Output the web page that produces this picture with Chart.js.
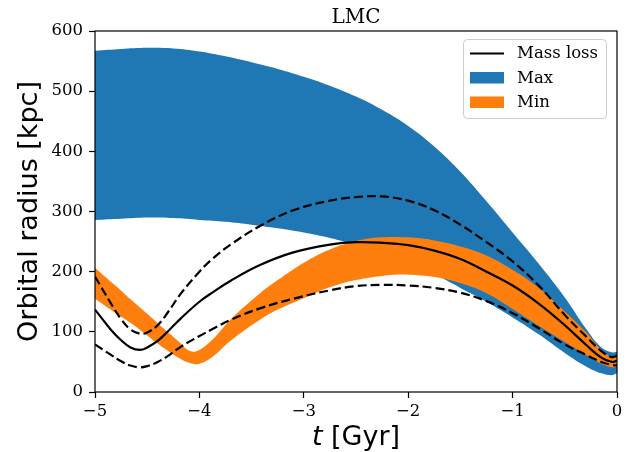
<!DOCTYPE html>
<html>
<head>
<meta charset="utf-8">
<script src="https://cdn.jsdelivr.net/npm/chart.js@4"></script>
<style>
  body { margin: 0; background: #fff; }
</style>
</head>
<body>
<canvas id="orbit" width="640" height="452"></canvas>
<script>
// time grids (Gyr) and orbital radii (kpc)
const tMax = [-5, -4.75, -4.5, -4.25, -4, -3.75, -3.5, -3.25, -3, -2.75, -2.5, -2.25, -2, -1.75, -1.5, -1.25, -1, -0.75, -0.5, -0.3, -0.15, -0.05, 0];
const maxUpper = [567, 570, 572, 571, 566, 558, 548, 537, 524, 509, 491, 469, 442, 408, 366, 317, 265, 213, 157, 106, 74, 66, 67];
const maxLower = [286, 288, 290, 289, 286, 283, 278, 272, 265, 256, 245, 232, 216, 196, 173, 150, 124, 96, 65, 43, 31, 28, 31];

const tMin = [-5, -4.8, -4.66, -4.5, -4.34, -4.2, -4.09, -4, -3.87, -3.71, -3.42, -3.25, -3, -2.75, -2.5, -2.25, -2, -1.75, -1.5, -1.25, -1, -0.75, -0.5, -0.3, -0.15, -0.05, 0];
const minUpper = [206, 176, 154, 130, 105, 84, 68, 70, 88, 119, 164, 186, 215, 237, 251, 257, 257, 252, 242, 227, 203, 173, 134, 100, 70, 58, 59];
const minLower = [155, 131, 115, 94, 73, 57, 48, 47, 59, 84, 120, 137, 156, 174, 186, 193, 195, 191, 181, 164, 138, 110, 83, 62, 47, 41, 42];

const tLoss = [-5, -4.85, -4.75, -4.66, -4.57, -4.5, -4.4, -4.3, -4.18, -4, -3.87, -3.7, -3.42, -3.1, -2.75, -2.5, -2.25, -2, -1.75, -1.5, -1.25, -1, -0.75, -0.5, -0.3, -0.15, -0.05, 0];
const lossMid = [137, 104, 86, 74, 70, 74, 85, 101, 122, 150, 166, 185, 211, 232, 245, 249, 248, 244, 235, 221, 200, 177, 147, 111, 79, 57, 50, 52];
const lossHigh = [192, 148, 121, 104, 97, 99, 111, 133, 163, 200, 222, 245, 276, 302, 318, 324, 325, 318, 302, 278, 249, 217, 177, 128, 93, 68, 58, 60];
const lossLow = [79, 62, 51, 44, 41, 43, 50, 60, 75, 93, 105, 120, 139, 155, 169, 176, 178, 177, 173, 165, 151, 131, 106, 79, 62, 50, 45, 44];

const xTicks = [-5, -4, -3, -2, -1, 0];
const yTicks = [0, 100, 200, 300, 400, 500, 600];

const BLUE = '#1f77b4';
const ORANGE = '#ff7f0e';
const SERIF = '"DejaVu Serif", serif';
const SANS = '"DejaVu Sans", sans-serif';

const pts = (xs, ys) => xs.map((x, i) => ({ x: x, y: ys[i] }));

const curve = {
  pointRadius: 0,
  tension: 0.4,
  fill: false
};

// legend, frame, title and axis titles drawn on top
const decorations = {
  id: 'decorations',
  afterDraw(chart) {
    const ctx = chart.ctx;
    const a = chart.chartArea;
    ctx.save();

    ctx.strokeStyle = '#000';
    ctx.lineWidth = 1.2;
    ctx.strokeRect(a.left, a.top, a.right - a.left, a.bottom - a.top);

    ctx.fillStyle = '#000';
    ctx.font = '20px ' + SERIF;
    ctx.textAlign = 'center';
    ctx.textBaseline = 'alphabetic';
    ctx.fillText('LMC', (a.left + a.right) / 2, 23);

    // x title with italic t
    ctx.font = 'italic 27px ' + SANS;
    const wt = ctx.measureText('t').width;
    ctx.font = '27px ' + SANS;
    const wr = ctx.measureText(' [Gyr]').width;
    let x0 = (a.left + a.right) / 2 - (wt + wr) / 2;
    ctx.textAlign = 'left';
    ctx.font = 'italic 27px ' + SANS;
    ctx.fillText('t', x0, 445);
    ctx.font = '27px ' + SANS;
    ctx.fillText(' [Gyr]', x0 + wt, 445);

    ctx.save();
    ctx.translate(37, (a.top + a.bottom) / 2);
    ctx.rotate(-Math.PI / 2);
    ctx.textAlign = 'center';
    ctx.font = '27px ' + SANS;
    ctx.fillText('Orbital radius [kpc]', 0, 0);
    ctx.restore();

    // legend box
    const bx = 463.5, by = 39.5, bw = 143, bh = 79;
    ctx.beginPath();
    ctx.roundRect(bx, by, bw, bh, 4);
    ctx.fillStyle = 'rgba(255,255,255,0.8)';
    ctx.fill();
    ctx.strokeStyle = '#cccccc';
    ctx.lineWidth = 1;
    ctx.stroke();

    ctx.strokeStyle = '#000';
    ctx.lineWidth = 2.2;
    ctx.beginPath();
    ctx.moveTo(470, 53.5);
    ctx.lineTo(504, 53.5);
    ctx.stroke();
    ctx.fillStyle = BLUE;
    ctx.fillRect(470, 72, 34, 11.5);
    ctx.fillStyle = ORANGE;
    ctx.fillRect(470, 96.5, 34, 11.5);

    ctx.fillStyle = '#000';
    ctx.font = '16.5px ' + SERIF;
    ctx.textAlign = 'left';
    ctx.textBaseline = 'middle';
    ctx.fillText('Mass loss', 517, 54);
    ctx.fillText('Max', 517, 78.5);
    ctx.fillText('Min', 517, 103);
    ctx.restore();
  }
};

new Chart(document.getElementById('orbit'), {
  type: 'line',
  data: {
    datasets: [
      { ...curve, label: 'Mass loss', data: pts(tLoss, lossMid), borderColor: '#000', borderWidth: 2.2 },
      { ...curve, label: 'upper', data: pts(tLoss, lossHigh), borderColor: '#000', borderWidth: 2.2, borderDash: [9, 4] },
      { ...curve, label: 'lower', data: pts(tLoss, lossLow), borderColor: '#000', borderWidth: 2.2, borderDash: [9, 4] },
      { ...curve, label: 'Min', data: pts(tMin, minUpper), borderWidth: 0, borderColor: ORANGE, backgroundColor: ORANGE, fill: 4 },
      { ...curve, label: 'Min low', data: pts(tMin, minLower), borderWidth: 0, borderColor: ORANGE },
      { ...curve, label: 'Max', data: pts(tMax, maxUpper), borderWidth: 0, borderColor: BLUE, backgroundColor: BLUE, fill: 6 },
      { ...curve, label: 'Max low', data: pts(tMax, maxLower), borderWidth: 0, borderColor: BLUE }
    ]
  },
  options: {
    responsive: false,
    animation: false,
    devicePixelRatio: 1,
    layout: { padding: { top: 31, right: 23, left: 0, bottom: 0 } },
    plugins: {
      legend: { display: false },
      tooltip: { enabled: false },
      title: { display: false }
    },
    scales: {
      x: {
        type: 'linear',
        min: -5,
        max: 0,
        afterFit(scale) { scale.height = 60; },
        afterBuildTicks(scale) { scale.ticks = xTicks.map(v => ({ value: v })); },
        border: { display: false },
        grid: { drawOnChartArea: false, drawTicks: true, tickLength: 6, tickWidth: 1.2, tickColor: '#000' },
        ticks: {
          color: '#000',
          padding: 4,
          maxRotation: 0,
          font: { family: SERIF, size: 16.5 },
          callback: v => String(v).replace('-', '\u2212')
        }
      },
      y: {
        min: 0,
        max: 600,
        afterFit(scale) { scale.width = 95; },
        afterBuildTicks(scale) { scale.ticks = yTicks.map(v => ({ value: v })); },
        border: { display: false },
        grid: { drawOnChartArea: false, drawTicks: true, tickLength: 6, tickWidth: 1.2, tickColor: '#000' },
        ticks: {
          color: '#000',
          padding: 6,
          font: { family: SERIF, size: 16.5 }
        }
      }
    }
  },
  plugins: [decorations]
});
</script>
</body>
</html>
